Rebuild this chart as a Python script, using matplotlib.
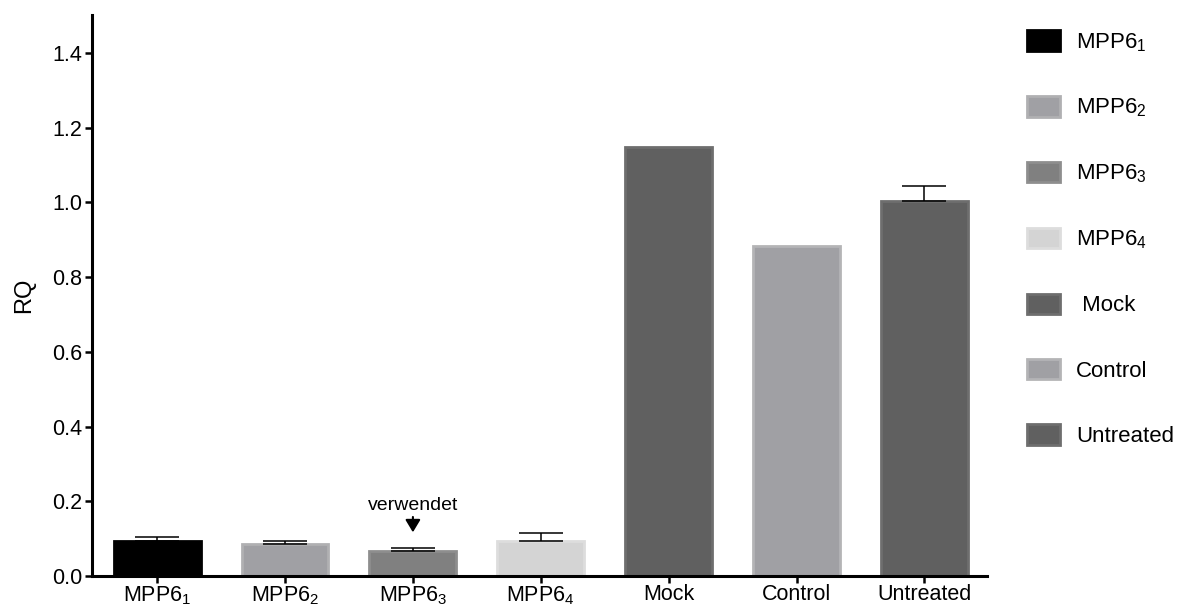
import matplotlib
matplotlib.use("Agg")
import matplotlib.pyplot as plt
from matplotlib.patches import Patch

plt.rcParams['font.family'] = ['Liberation Sans', 'DejaVu Sans']
plt.rcParams['mathtext.fontset'] = 'custom'
plt.rcParams['mathtext.rm'] = 'Liberation Sans'
plt.rcParams['mathtext.it'] = 'Liberation Sans'

# RQ-Werte je Probe
labels = ['MPP6$_1$', 'MPP6$_2$', 'MPP6$_3$', 'MPP6$_4$', 'Mock', 'Control', 'Untreated']
rq = [0.094, 0.085, 0.067, 0.093, 1.148, 0.884, 1.003]
sem = [0.010, 0.010, 0.008, 0.023, 0.0, 0.0, 0.040]
legend_labels = ['MPP6$_1$', 'MPP6$_2$', 'MPP6$_3$', 'MPP6$_4$', ' Mock', 'Control', 'Untreated']

farben = ['#000000', '#a0a0a4', '#808080', '#d4d4d4', '#606060', '#a0a0a4', '#606060']
kanten = ['#000000', '#b0b0b2', '#8e8e8e', '#dddddd', '#6e6e6e', '#b4b4b6', '#6e6e6e']

fig = plt.figure(figsize=(11.78, 6.08), dpi=100)
ax = fig.add_axes([0.078, 0.0526, 0.760, 0.922])

x = list(range(len(labels)))
ax.bar(x, rq, width=0.68, color=farben, edgecolor=kanten, linewidth=2, zorder=2)

# nur Fehlerbalken nach oben, wo ein SEM vorhanden ist
ex = [i for i in x if sem[i] > 0]
ax.errorbar(ex, [rq[i] for i in ex], yerr=[[0] * len(ex), [sem[i] for i in ex]],
            fmt='none', ecolor='black', elinewidth=1.1, capsize=15.5, capthick=1.1, zorder=3)

ax.set_xlim(-0.51, 6.49)
ax.set_ylim(0, 1.5)
ax.set_yticks([0.0, 0.2, 0.4, 0.6, 0.8, 1.0, 1.2, 1.4])
ax.set_yticklabels(['0.0', '0.2', '0.4', '0.6', '0.8', '1.0', '1.2', '1.4'])
ax.set_xticks(x)
ax.set_xticklabels(labels, fontsize=15.5)
ax.tick_params(axis='y', labelsize=15.5, length=5, width=1.8, pad=2)
ax.tick_params(axis='x', length=5, width=1.8, pad=1)
ax.set_ylabel('RQ', fontsize=17, labelpad=12)

for s in ['top', 'right']:
    ax.spines[s].set_visible(False)
for s in ['left', 'bottom']:
    ax.spines[s].set_linewidth(2.2)

# Markierung der verwendeten Probe
ax.text(2, 0.19, 'verwendet', ha='center', va='center', fontsize=14)
ax.annotate('', xy=(2, 0.117), xytext=(2, 0.158),
            arrowprops=dict(arrowstyle='-|>,head_length=0.75,head_width=0.45',
                            color='black', lw=1.5, mutation_scale=10,
                            shrinkA=0, shrinkB=0))

handles = [Patch(facecolor=f, edgecolor=k, linewidth=2) for f, k in zip(farben, kanten)]
fig.legend(handles, legend_labels, loc='upper left', bbox_to_anchor=(0.864, 0.965),
           frameon=False, fontsize=16, handlelength=1.49, handleheight=1.04,
           handletextpad=0.72, labelspacing=1.91, borderaxespad=0)

fig.savefig('out.png', dpi=100)
